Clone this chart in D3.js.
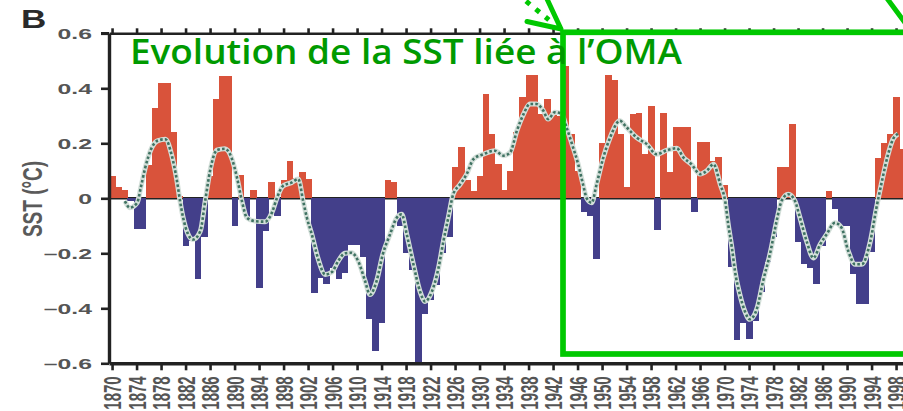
<!DOCTYPE html>
<html><head><meta charset="utf-8">
<script src="https://cdn.jsdelivr.net/npm/d3@7"></script>
<style>html,body{margin:0;padding:0;background:#fff;overflow:hidden}</style>
</head><body>
<svg id="chart" width="903" height="411"></svg>
<script>
// ---------- data ----------
const startYear = 1870;
const sstValues = [
 0.08, 0.04, 0.03,-0.01,-0.11,-0.11, 0.12, 0.33, 0.42, 0.42,   // 1870-1879
 0.24, 0.01,-0.175,-0.155,-0.295,-0.14, 0.08, 0.36, 0.445, 0.445, // 1880-1889
-0.10, 0.085,-0.07, 0.03,-0.325,-0.12, 0.06,-0.065, 0.065, 0.135, // 1890-1899
 0.075, 0.095, 0.07,-0.345,-0.29,-0.31,-0.255,-0.295,-0.27,-0.17, // 1900-1909
-0.17,-0.215,-0.44,-0.555,-0.455, 0.065, 0.06,-0.10,-0.20,-0.26,  // 1910-1919
-0.60,-0.42,-0.37,-0.315,-0.20,-0.14, 0.115, 0.185, 0.065, 0.025, // 1920-1929
 0.08, 0.38, 0.235, 0.125, 0.03, 0.10, 0.24, 0.37, 0.45, 0.45,    // 1930-1939
 0.305, 0.36, 0.31, 0.30, 0.48, 0.235, 0.10,-0.05,-0.065,-0.22,   // 1940-1949
 0.20, 0.45, 0.43, 0.235, 0.04, 0.305, 0.31, 0.16, 0.335,-0.115,  // 1950-1959
 0.31, 0.095, 0.26, 0.26, 0.26,-0.05, 0.205, 0.205, 0.135, 0.15,  // 1960-1969
 0.05,-0.25,-0.515,-0.455,-0.51,-0.445,-0.34,-0.23,-0.14, 0.115,  // 1970-1979
 0.115, 0.27,-0.16,-0.24,-0.255,-0.31,-0.175, 0.025,-0.04,-0.10,  // 1980-1989
-0.10,-0.275,-0.385,-0.385,-0.195, 0.145, 0.20, 0.235, 0.37, 0.18 // 1990-1999
];
const smoothPoints = [
 [1872.1,-0.01],[1872.9,-0.034],[1874.1,-0.016],[1874.7,0.04],[1875.4,0.11],[1876.5,0.185],
 [1877.5,0.21],[1878.7,0.215],[1879.7,0.16],[1880.6,0.063],[1881.1,-0.01],[1881.6,-0.07],
 [1882.4,-0.13],[1883.2,-0.15],[1884.4,-0.12],[1885.2,-0.01],[1886.0,0.10],[1887.1,0.175],
 [1888.4,0.18],[1889.5,0.148],[1890.4,0.075],[1891.2,-0.01],[1892.0,-0.07],[1893.3,-0.083],
 [1895.0,-0.085],[1896.1,-0.052],[1896.9,0.0],[1897.9,0.045],[1899.3,0.057],[1900.4,0.07],
 [1901.2,-0.01],[1901.8,-0.07],[1902.6,-0.13],[1903.6,-0.217],[1904.8,-0.277],[1905.9,-0.268],
 [1906.9,-0.229],[1908.0,-0.20],[1909.1,-0.198],[1910.2,-0.229],[1911.3,-0.30],[1912.1,-0.35],
 [1913.2,-0.30],[1914.2,-0.204],[1915.4,-0.13],[1916.5,-0.07],[1917.3,-0.058],[1918.1,-0.13],
 [1919.2,-0.24],[1920.3,-0.34],[1921.1,-0.375],[1922.2,-0.34],[1923.3,-0.253],[1924.1,-0.156],
 [1924.9,-0.07],[1925.7,0.015],[1926.8,0.05],[1927.9,0.088],[1929.0,0.142],[1930.6,0.16],
 [1932.5,0.173],[1933.9,0.155],[1935.0,0.167],[1936.1,0.246],[1937.2,0.307],[1938.2,0.343],
 [1939.3,0.343],[1940.4,0.319],[1941.2,0.288],[1942.3,0.313],[1943.4,0.307],[1944.2,0.258],
 [1945.1,0.197],[1946.1,0.124],[1946.9,0.05],[1947.5,0.0],[1948.3,-0.016],[1949.1,0.05],
 [1950.2,0.148],[1951.3,0.22],[1952.9,0.282],[1954.0,0.258],[1955.7,0.22],[1957.3,0.197],
 [1958.9,0.16],[1960.6,0.175],[1962.2,0.182],[1963.3,0.148],[1964.6,0.124],[1966.0,0.088],
 [1967.1,0.10],[1968.2,0.124],[1969.3,0.05],[1970.1,-0.01],[1970.6,-0.095],[1971.2,-0.18],
 [1971.7,-0.265],[1972.5,-0.35],[1973.3,-0.41],[1974.1,-0.44],[1975.3,-0.40],[1976.3,-0.30],
 [1977.4,-0.204],[1978.5,-0.083],[1979.3,-0.01],[1980.4,0.015],[1981.5,-0.01],[1982.3,-0.07],
 [1983.4,-0.156],[1984.5,-0.217],[1985.6,-0.168],[1986.7,-0.13],[1988.0,-0.089],[1989.1,-0.107],
 [1990.2,-0.192],[1991.3,-0.24],[1992.4,-0.24],[1993.8,-0.156],[1994.8,-0.034],[1995.7,0.063],
 [1996.7,0.16],[1997.5,0.215],[1998.3,0.234]
];
const yTickValues = [-0.6,-0.4,-0.2,0,0.2,0.4,0.6];
const xTickYears = [1870,1874,1878,1882,1886,1890,1894,1898,1902,1906,1910,1914,1918,1922,1926,
  1930,1934,1938,1942,1946,1950,1954,1958,1962,1966,1970,1974,1978,1982,1986,1990,1994,1998];
const titleText = "Evolution de la SST liée à l’OMA";
const yAxisLabel = "SST (°C)";
const panelLabel = "B";

// ---------- setup ----------
const svg = d3.select("#chart");
const bars = sstValues.map((v,i)=>({year:startYear+i, v}));
const x = d3.scaleLinear().domain([1869.5, 2001.5]).range([109, 109 + 132*6.125]);
const y = d3.scaleLinear().domain([-0.6, 0.6]).range([363.3, 33.3]);
const RED = "#d9533b", BLUE = "#433f8a", AXIS = "#222";
const fmt = d => d === 0 ? "0" : (d < 0 ? "\u2013" + d3.format(".1f")(-d) : d3.format(".1f")(d));

// zero line (beneath bars)
svg.append("line").attr("x1", 109).attr("x2", 903).attr("y1", y(0)).attr("y2", y(0))
  .attr("stroke", AXIS).attr("stroke-width", 2.6);

// bars
svg.append("g").attr("shape-rendering","crispEdges").selectAll("rect").data(bars).join("rect")
  .attr("x", d => x(d.year - 0.5))
  .attr("width", d => x(d.year + 0.5) - x(d.year - 0.5) + 0.6)
  .attr("y", d => d.v >= 0 ? y(d.v) : y(0))
  .attr("height", d => Math.abs(y(d.v) - y(0)))
  .attr("fill", d => d.v >= 0 ? RED : BLUE);

// smoothed line
const line = d3.line().x(d => x(d[0])).y(d => y(d[1])).curve(d3.curveMonotoneX);
svg.append("path").attr("d", line(smoothPoints)).attr("fill","none")
  .attr("stroke","#d3dfd9").attr("stroke-width",5).attr("stroke-linejoin","round");
svg.append("path").attr("d", line(smoothPoints)).attr("fill","none")
  .attr("stroke","#3f7262").attr("stroke-width",2.6).attr("stroke-dasharray","2.6,2.2");

// axes
const leftAxis = svg.append("g").attr("transform","translate(109,0)")
  .call(d3.axisLeft(y).tickValues(yTickValues).tickSize(8).tickSizeOuter(0).tickFormat(fmt));
leftAxis.select(".domain").attr("stroke",AXIS).attr("stroke-width",3.4);
leftAxis.selectAll(".tick line").attr("stroke",AXIS).attr("stroke-width",2.6);
leftAxis.selectAll(".tick text")
  .attr("x",0).attr("dy","0.36em").attr("text-anchor","end")
  .attr("transform","translate(-17,0) scale(1.65,1)")
  .attr("font-family","Liberation Sans, Arial, sans-serif").attr("font-size",15)
  .attr("font-weight","bold").attr("fill","#555");

const bottomAxis = svg.append("g").attr("transform",`translate(0,${y(-0.6)})`)
  .call(d3.axisBottom(x).tickValues(xTickYears).tickSize(7).tickSizeOuter(0).tickFormat(d3.format("d")));
bottomAxis.select(".domain").attr("stroke",AXIS).attr("stroke-width",3.4);
bottomAxis.selectAll(".tick line").attr("stroke",AXIS).attr("stroke-width",2.6);
bottomAxis.selectAll(".tick text")
  .attr("x",0).attr("y",0).attr("dy","0.36em").attr("text-anchor","end")
  .attr("transform","translate(0,13) scale(1.65,1) rotate(-90)")
  .attr("font-family","Liberation Sans, Arial, sans-serif").attr("font-size",15)
  .attr("font-weight","bold").attr("fill","#555");

const topAxis = svg.append("g").attr("transform",`translate(0,${y(0.6)})`)
  .call(d3.axisTop(x).tickValues(xTickYears).tickSize(5).tickSizeOuter(0).tickFormat(""));
topAxis.select(".domain").attr("stroke",AXIS).attr("stroke-width",2.6);
topAxis.selectAll(".tick line").attr("stroke",AXIS).attr("stroke-width",2.6);
svg.append("line").attr("x1",101).attr("x2",109).attr("y1",y(0.6)).attr("y2",y(0.6))
  .attr("stroke",AXIS).attr("stroke-width",2.6);

// y-axis title
svg.append("text").text(yAxisLabel)
  .attr("transform","translate(42,199) scale(1.5,1) rotate(-90)")
  .attr("text-anchor","middle")
  .attr("font-family","Liberation Sans, Arial, sans-serif").attr("font-size",19)
  .attr("font-weight","bold").attr("fill","#5a5a5a");

// panel label
svg.append("text").text(panelLabel)
  .attr("transform","translate(21,28) scale(1.4,1)")
  .attr("font-family","Liberation Sans, Arial, sans-serif").attr("font-size",25)
  .attr("font-weight","bold").attr("fill","#2a2a2a");

// ---------- green annotation ----------
const GREEN = "#00c800";
svg.append("rect").attr("x",563).attr("y",32.3).attr("width",420).attr("height",321.7)
  .attr("fill","none").attr("stroke",GREEN).attr("stroke-width",5.7);
svg.append("path").attr("d","M527,21.5 L561,29 L547,-1").attr("fill","none")
  .attr("stroke",GREEN).attr("stroke-width",5).attr("stroke-linecap","round").attr("stroke-linejoin","round");
svg.append("line").attr("x1",516.4).attr("y1",-6.8).attr("x2",548.9).attr("y2",19.9)
  .attr("stroke",GREEN).attr("stroke-width",5).attr("stroke-dasharray","5,7.5");
svg.append("line").attr("x1",886).attr("y1",-3).attr("x2",906).attr("y2",24)
  .attr("stroke",GREEN).attr("stroke-width",5).attr("stroke-linecap","round");

svg.append("text").text(titleText)
  .attr("x",130).attr("y",64)
  .attr("textLength",552).attr("lengthAdjust","spacingAndGlyphs")
  .attr("font-family","Open Sans, sans-serif").attr("font-size",34)
  .attr("font-weight",600).attr("fill","#009a00");
</script>
</body></html>
